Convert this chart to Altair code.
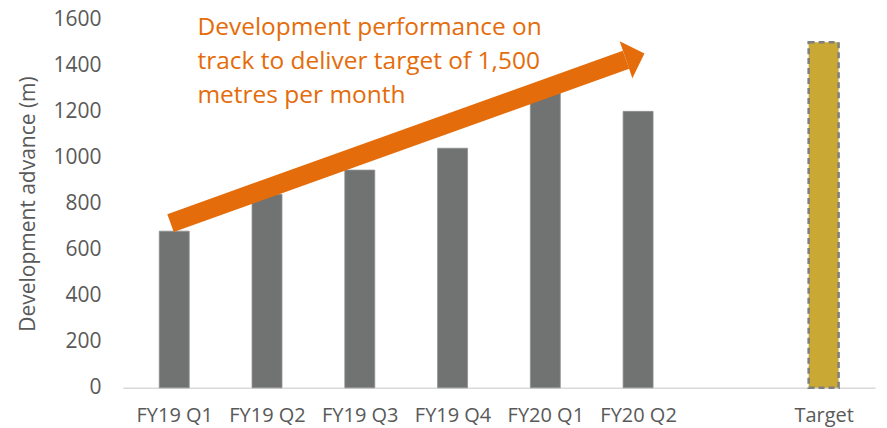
import altair as alt
import pandas as pd

# Data
categories = ["FY19 Q1", "FY19 Q2", "FY19 Q3", "FY19 Q4", "FY20 Q1", "FY20 Q2", "Target"]
slots = [0, 1, 2, 3, 4, 5, 7]
values = [680, 840, 945, 1040, 1280, 1200, 1500]
slot_labels = ["FY19 Q1", "FY19 Q2", "FY19 Q3", "FY19 Q4", "FY20 Q1", "FY20 Q2", "", "Target"]

# Annotation (data coordinates)
arrow_x = [-0.04, 4.87]
arrow_y = [715, 1424]
head_x = [4.87]
head_y = [1424]
note_lines = ["Development performance on", "track to deliver target of 1,500", "metres per month"]
note_x = [0.25]
note_y = [1612]

df = pd.DataFrame({"cat": categories, "slot": slots, "value": values})
df["kind"] = ["actual"] * 6 + ["target"]
arrow_df = pd.DataFrame({"x": arrow_x, "y": arrow_y})
head_df = pd.DataFrame({"x": head_x, "y": head_y})
note_df = pd.DataFrame({"x": note_x, "y": note_y, "t": [note_lines]})

FONT = "Open Sans"
GREY_TXT = "#595959"
ORANGE = "#E46C0A"

label_expr = "[" + ",".join("'" + s + "'" for s in slot_labels) + "][datum.value]"

xscale = alt.Scale(domain=[-0.5, 7.5], nice=False, zero=False)
yscale = alt.Scale(domain=[0, 1600], nice=False)

x_enc = alt.X(
    "slot:Q",
    scale=xscale,
    axis=alt.Axis(
        values=list(range(8)),
        labelExpr=label_expr,
        title=None,
        grid=False,
        ticks=False,
        domainColor="#D9D9D9",
        domainWidth=1.5,
        labelColor=GREY_TXT,
        labelFont=FONT,
        labelFontSize=20,
        labelPadding=18,
        labelFlush=False,
        labelOverlap=False,
    ),
)
y_enc = alt.Y(
    "value:Q",
    scale=yscale,
    axis=alt.Axis(
        values=list(range(0, 1601, 200)),
        format="d",
        title="Development advance (m)",
        titleFont=FONT,
        titleFontSize=21,
        titleFontWeight="normal",
        titleColor=GREY_TXT,
        titlePadding=14,
        grid=False,
        ticks=False,
        domain=False,
        labelColor=GREY_TXT,
        labelFont=FONT,
        labelFontSize=21,
        labelPadding=22,
    ),
)

base = alt.Chart(df)
actual = base.transform_filter("datum.kind == 'actual'").mark_bar(
    size=30, color="#707372", stroke="#8f9190", strokeWidth=0.8
).encode(x=x_enc, y=y_enc)
target = base.transform_filter("datum.kind == 'target'").mark_bar(
    size=30, color="#C9A933", stroke="#7F7F7F", strokeWidth=2.5, strokeDash=[6, 4]
).encode(x="slot:Q", y="value:Q")

shaft = alt.Chart(arrow_df).mark_line(
    color=ORANGE, strokeWidth=19, strokeCap="butt", clip=False
).encode(x="x:Q", y="y:Q")
head = alt.Chart(head_df).mark_point(
    shape="M 0 -1 L 1 0 L 0 1 Z", size=1521, filled=True, color=ORANGE,
    opacity=1, angle=341, clip=False
).encode(x="x:Q", y="y:Q")
note = alt.Chart(note_df).mark_text(
    align="left", baseline="top", font=FONT, fontSize=24.5, color=ORANGE,
    lineHeight=34, clip=False
).encode(x="x:Q", y="y:Q", text="t")

chart = alt.layer(actual, target, shaft, head, note).properties(
    width=753,
    height=369,
    autosize=alt.AutoSizeParams(type="none"),
    padding={"left": 115, "top": 11, "right": 4, "bottom": 40},
).configure_view(stroke=None)

chart.save("out.html", embed_options={"renderer": "svg", "actions": False})
